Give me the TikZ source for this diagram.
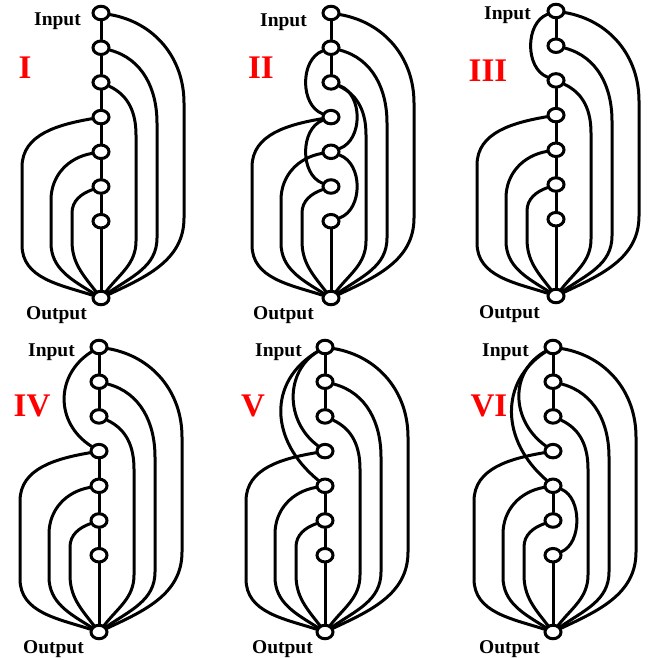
\documentclass[tikz,border=0pt]{standalone}
\usepackage{fontspec}
\setmainfont{Liberation Serif}
\usetikzlibrary{shapes.geometric}
\begin{document}
\tikzset{
  vtx/.style={ellipse, draw, fill=white, line width=3pt, minimum width=16pt, minimum height=13.5pt, inner sep=0pt},
  wire/.style={line width=3pt, line cap=round},
  lbl/.style={font=\bfseries\fontsize{19.5}{19.5}\selectfont, inner sep=0pt, anchor=base east},
  num/.style={font=\bfseries\fontsize{33}{33}\selectfont, text=red, inner sep=0pt},
}
\newcommand\arcs[1]{%
  \draw[wire] (#1a) to[out=-10,in=90] (83,-90) -- (83,-205) to[out=-90,in=25] (#1o);
  \draw[wire] (#1b) to[out=-15,in=90] (56,-110) -- (56,-225) to[out=-90,in=35] (#1o);
  \draw[wire] (#1c) to[out=-25,in=90] (35,-122) -- (35,-228) to[out=-90,in=52] (#1o);
  \draw[wire] (#1d) to[out=190,in=90] (-79,-154) -- (-79,-232) to[out=-90,in=162] (#1o);
  \draw[wire] (#1e) to[out=190,in=90] (-50,-187) -- (-50,-230) to[out=-90,in=148] (#1o);
  \draw[wire] (#1f) to[out=200,in=90] (-29,-200) -- (-29,-228) to[out=-90,in=128] (#1o);
}
\newcommand\vertices[1]{%
  \node[vtx] (#1a) at (0,0) {};
  \node[vtx] (#1b) at (0,-34.7) {};
  \node[vtx] (#1c) at (0,-69.4) {};
  \node[vtx] (#1d) at (0,-104.1) {};
  \node[vtx] (#1e) at (0,-138.8) {};
  \node[vtx] (#1f) at (0,-173.5) {};
  \node[vtx] (#1g) at (0,-208.2) {};
  \node[vtx] (#1o) at (0,-285) {};
}
\begin{tikzpicture}[x=1pt,y=1pt]
  \useasboundingbox (0,0) rectangle (657,-658);
  % Panel I
  \begin{scope}[shift={(101,-13)}]
    \vertices{P}\arcs{P}
    \draw[wire] (Pa)--(Pb)--(Pc)--(Pd)--(Pe)--(Pf)--(Pg)--(Po);
  \end{scope}
  % Panel II
  \begin{scope}[shift={(331,-13)}]
    \vertices{Q}\arcs{Q}
    \draw[wire] (Qa)--(Qb)--(Qc);
    \draw[wire] (Qg)--(Qo);
    \draw[wire] (Qb) .. controls +(-31,-12) and +(-31,12) .. (Qd);
    \draw[wire] (Qd) .. controls +(-31,-12) and +(-31,12) .. (Qf);
    \draw[wire] (Qc) .. controls +(32,-12) and +(32,12) .. (Qe);
    \draw[wire] (Qe) .. controls +(32,-12) and +(32,12) .. (Qg);
  \end{scope}
  % Panel III
  \begin{scope}[shift={(556,-11)}]
    \vertices{R}\arcs{R}
    \draw[wire] (Ra)--(Rb);
    \draw[wire] (Rc)--(Rd)--(Re)--(Rf)--(Rg)--(Ro);
    \draw[wire] (Ra) .. controls +(-31,-12) and +(-31,12) .. (Rc);
  \end{scope}
  % Panel IV
  \begin{scope}[shift={(99,-347)}]
    \vertices{S}\arcs{S}
    \draw[wire] (Sa)--(Sb)--(Sc);
    \draw[wire] (Sd)--(Se)--(Sf)--(Sg)--(So);
    \draw[wire] (Sa) .. controls +(-44,-28) and +(-44,28) .. (Sd);
  \end{scope}
  % Panel V
  \begin{scope}[shift={(325,-347)}]
    \vertices{T}\arcs{T}
    \draw[wire] (Ta)--(Tb)--(Tc);
    \draw[wire] (Te)--(Tf)--(Tg)--(To);
    \draw[wire] (Ta) .. controls +(-40,-25) and +(-40,30) .. (Td);
    \draw[wire] (Ta) .. controls +(-58,-35) and +(-55,45) .. (Te);
  \end{scope}
  % Panel VI
  \begin{scope}[shift={(553,-347)}]
    \vertices{U}\arcs{U}
    \draw[wire] (Ua)--(Ub)--(Uc);
    \draw[wire] (Ue)--(Uf);
    \draw[wire] (Ug)--(Uo);
    \draw[wire] (Ua) .. controls +(-44,-25) and +(-42,30) .. (Ud);
    \draw[wire] (Ua) .. controls +(-54,-35) and +(-52,45) .. (Ue);
    \draw[wire] (Ue) .. controls +(29,-12) and +(29,12) .. (Ug);
  \end{scope}
  % labels
  \node[lbl] (in1) at (81,-26) {Input};   \node[lbl] (out1) at (87,-319) {Output};
  \node[lbl] (in2) at (307,-27) {Input};  \node[lbl] (out2) at (314,-319) {Output};
  \node[lbl] (in3) at (531,-20) {Input};  \node[lbl] (out3) at (540,-318) {Output};
  \node[lbl] (in4) at (75,-356) {Input};  \node[lbl] (out4) at (84,-653) {Output};
  \node[lbl] (in5) at (302,-356) {Input}; \node[lbl] (out5) at (313,-653) {Output};
  \node[lbl] (in6) at (529,-356) {Input}; \node[lbl] (out6) at (540,-653) {Output};
  \node[num] (r1) at (25,-67.5) {I};
  \node[num] (r2) at (261,-68) {II};
  \node[num] (r3) at (488,-71) {III};
  \node[num] (r4) at (32,-406) {IV};
  \node[num] (r5) at (253,-406) {V};
  \node[num] (r6) at (489,-406) {VI};
\end{tikzpicture}
\end{document}
